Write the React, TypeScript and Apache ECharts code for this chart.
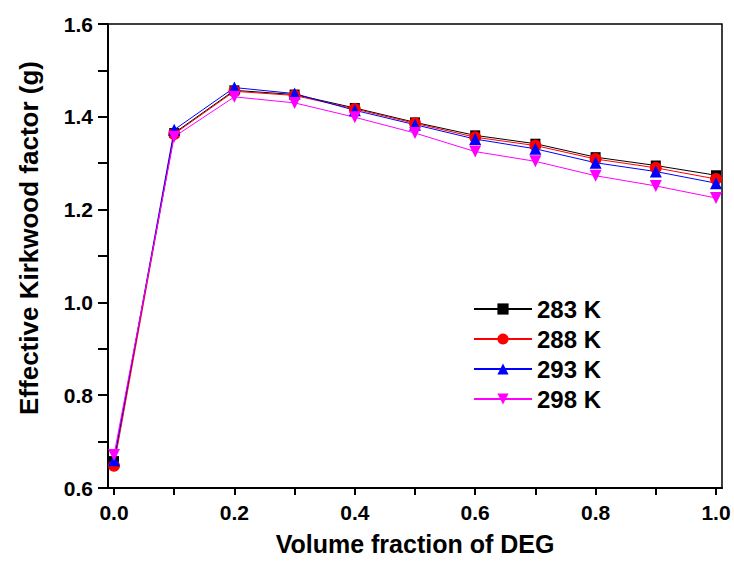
import React, { useEffect, useRef } from "react";
import * as echarts from "echarts";

const fractions = [0, 0.1, 0.2, 0.3, 0.4, 0.5, 0.6, 0.7, 0.8, 0.9, 1.0];
const g283 = [0.658, 1.365, 1.457, 1.448, 1.419, 1.388, 1.360, 1.342, 1.313, 1.295, 1.274];
const g288 = [0.648, 1.363, 1.455, 1.446, 1.417, 1.386, 1.356, 1.338, 1.309, 1.290, 1.266];
const g293 = [0.660, 1.372, 1.463, 1.450, 1.414, 1.383, 1.352, 1.331, 1.301, 1.282, 1.257];
const g298 = [0.671, 1.357, 1.443, 1.430, 1.399, 1.365, 1.325, 1.304, 1.273, 1.251, 1.225];
const legendNames = ["283 K", "288 K", "293 K", "298 K"];

const FONT = "Liberation Sans, Arial, sans-serif";

export default function App() {
  const ref = useRef<HTMLDivElement>(null);
  useEffect(() => {
    if (!ref.current) return;
    const chart = echarts.init(ref.current, undefined, { renderer: "svg" });
    const mk = (name: string, vals: number[], color: string, symbol: string, size: number, rotate = 0) => ({
      name,
      type: "line",
      xAxisIndex: 1,
      yAxisIndex: 1,
      data: fractions.map((x, i) => [x, vals[i]]),
      symbol,
      symbolSize: size,
      symbolRotate: rotate,
      showAllSymbol: true,
      lineStyle: { color, width: 1 },
      itemStyle: { color },
      clip: false,
    });
    chart.setOption({
      animation: false,
      backgroundColor: "#fff",
      grid: [
        { left: 108, right: 12, top: 24, bottom: 73, outerBoundsMode: "none", containLabel: false, show: true, borderColor: "#000", borderWidth: 1.5, backgroundColor: "transparent" },
        { left: 114, right: 18, top: 24, bottom: 73, outerBoundsMode: "none", containLabel: false },
      ],
      legend: {
        left: 468,
        top: 292,
        orient: "vertical",
        itemWidth: 58,
        itemHeight: 14,
        itemGap: 6,
        textStyle: { fontFamily: FONT, fontWeight: "bold", fontSize: 24, color: "#000" },
        data: legendNames,
      },
      xAxis: [
        {
          type: "value",
          gridIndex: 0,
          min: 0,
          max: 1,
          splitLine: { show: false },
          axisLine: { show: true, onZero: false, lineStyle: { color: "#000", width: 2 } },
          axisTick: { show: false },
          axisLabel: { show: false },
        },
        {
          type: "value",
          gridIndex: 1,
          min: 0,
          max: 1,
          interval: 0.2,
          splitLine: { show: false },
          axisLine: { show: true, onZero: false, lineStyle: { color: "#000", width: 2 } },
          axisTick: { show: true, length: 7, lineStyle: { color: "#000", width: 2 } },
          minorTick: { show: true, splitNumber: 2, length: 7, lineStyle: { color: "#000", width: 2 } },
          axisLabel: {
            formatter: (v: number) => v.toFixed(1),
            fontFamily: FONT, fontWeight: "bold", fontSize: 21, color: "#000", margin: 14,
          },
          name: "Volume fraction of DEG",
          nameLocation: "middle",
          nameGap: 43,
          nameTextStyle: { fontFamily: FONT, fontWeight: "bold", fontSize: 25, color: "#000" },
        },
      ],
      yAxis: [
        {
          type: "value",
          gridIndex: 0,
          min: 0.6,
          max: 1.6,
          show: false,
        },
        {
          type: "value",
          gridIndex: 1,
          min: 0.6,
          max: 1.6,
          interval: 0.2,
          offset: 6,
          splitLine: { show: false },
          axisLine: { show: true, onZero: false, lineStyle: { color: "#000", width: 2 } },
          axisTick: { show: true, length: 10, lineStyle: { color: "#000", width: 2 } },
          minorTick: { show: true, splitNumber: 2, length: 10, lineStyle: { color: "#000", width: 2 } },
          axisLabel: {
            formatter: (v: number) => v.toFixed(1),
            fontFamily: FONT, fontWeight: "bold", fontSize: 21, color: "#000", margin: 15,
          },
          name: "Effective Kirkwood factor (g)",
          nameLocation: "middle",
          nameGap: 66,
          nameTextStyle: { fontFamily: FONT, fontWeight: "bold", fontSize: 26, color: "#000", padding: [0, 0, 0, 36] },
        },
      ],
      series: [
        mk("283 K", g283, "#000000", "rect", 10),
        mk("288 K", g288, "#ff0000", "circle", 12),
        mk("293 K", g293, "#0000ff", "triangle", 12),
        mk("298 K", g298, "#ff00ff", "triangle", 12, 180),
      ],
    });
    return () => chart.dispose();
  }, []);
  return <div ref={ref} style={{ position: "fixed", left: 0, top: 0, width: 734, height: 561 }} />;
}
